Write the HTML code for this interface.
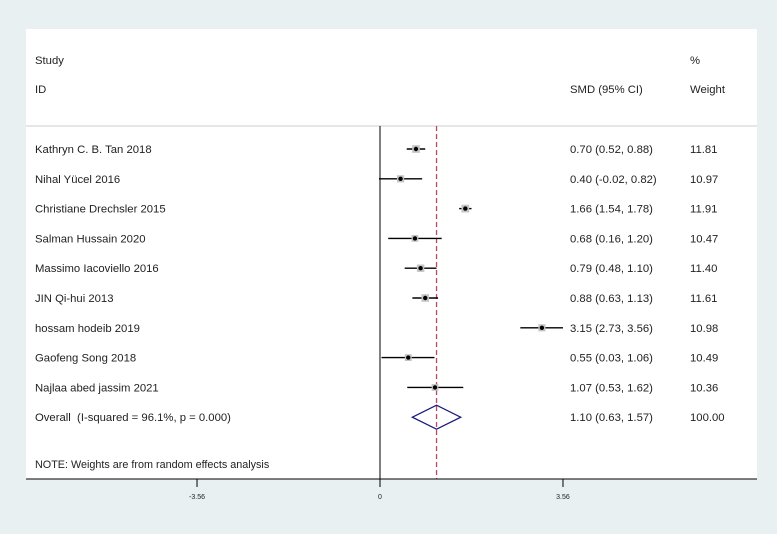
<!DOCTYPE html>
<html><head><meta charset="utf-8"><style>
body{margin:0;background:#e9f0f2;}
svg{display:block;font-family:"Liberation Sans",sans-serif;}
</style></head><body>
<svg width="777" height="534">
<rect x="0" y="0" width="777" height="534" fill="#e9f0f2"/>
<rect x="26" y="29" width="731" height="450" fill="#fff"/>
<g id="g"></g>
</svg>
<script>
const studies=["Kathryn C. B. Tan 2018","Nihal Yücel 2016","Christiane Drechsler 2015","Salman Hussain 2020","Massimo Iacoviello 2016","JIN Qi-hui 2013","hossam hodeib 2019","Gaofeng Song 2018","Najlaa abed jassim 2021"];
const est=[0.70,0.40,1.66,0.68,0.79,0.88,3.15,0.55,1.07];
const lo=[0.52,-0.02,1.54,0.16,0.48,0.63,2.73,0.03,0.53];
const hi=[0.88,0.82,1.78,1.20,1.10,1.13,3.56,1.06,1.62];
const weights=["11.81","10.97","11.91","10.47","11.40","11.61","10.98","10.49","10.36"];
const overall=[1.10,0.63,1.57];
const overallLabel="Overall\u00a0\u00a0(I-squared = 96.1%, p = 0.000)";
const ticks=[-3.56,0,3.56];
const tickLabels=["-3.56","0","3.56"];
const NS="http://www.w3.org/2000/svg",g=document.getElementById('g');
const X=v=>380+v*51.4, Y=i=>149+i*29.8;
function mk(t,a,txt){const e=document.createElementNS(NS,t);for(const k in a)e.setAttribute(k,a[k]);if(txt!==undefined)e.textContent=txt;g.appendChild(e);return e;}
const fmt=v=>v.toFixed(2);
const FS=11.3, TC='#222';
let e;
e=mk('line',{x1:26,y1:126,x2:757,y2:126,stroke:'#ccc','stroke-width':1});
e=mk('text',{x:35,y:64,'font-size':FS,fill:TC},'Study');
e=mk('text',{x:35,y:93,'font-size':FS,fill:TC},'ID');
e=mk('text',{x:570,y:93,'font-size':FS,fill:TC},'SMD (95% CI)');
e=mk('text',{x:690,y:64,'font-size':FS,fill:TC},'%');
e=mk('text',{x:690,y:93,'font-size':FS,fill:TC},'Weight');
e=mk('line',{x1:X(0),y1:126,x2:X(0),y2:479,stroke:'#000','stroke-width':1});
e=mk('line',{x1:X(overall[0]),y1:126,x2:X(overall[0]),y2:479,stroke:'#b84a62','stroke-width':1.3,'stroke-dasharray':'5,3'});
studies.forEach((s,i)=>{const y=Y(i);
e=mk('text',{x:35,y:y+4,'font-size':FS,fill:TC},s);
e=mk('line',{x1:X(lo[i]),y1:y,x2:X(hi[i]),y2:y,stroke:'#000','stroke-width':1.4});
const sz=parseFloat(weights[i])*0.65;
e=mk('rect',{x:X(est[i])-sz/2,y:y-sz/2,width:sz,height:sz,fill:'#c4c4c4'});
e=mk('circle',{cx:X(est[i]),cy:y,r:2.2,fill:'#000'});
e=mk('text',{x:570,y:y+4,'font-size':FS,fill:TC},fmt(est[i])+' ('+fmt(lo[i])+', '+fmt(hi[i])+')');
e=mk('text',{x:690,y:y+4,'font-size':FS,fill:TC},weights[i]);
});
const oy=Y(9);
e=mk('text',{x:35,y:oy+4,'font-size':FS,fill:TC},overallLabel);
e=mk('polygon',{points:`${X(overall[1])},${oy} ${X(overall[0])},${oy-12} ${X(overall[2])},${oy} ${X(overall[0])},${oy+12}`,fill:'none',stroke:'#1c1c7a','stroke-width':1.3});
e=mk('text',{x:570,y:oy+4,'font-size':FS,fill:TC},fmt(overall[0])+' ('+fmt(overall[1])+', '+fmt(overall[2])+')');
e=mk('text',{x:690,y:oy+4,'font-size':FS,fill:TC},'100.00');
e=mk('text',{x:35,y:468,'font-size':10.8,fill:TC},'NOTE: Weights are from random effects analysis');
e=mk('line',{x1:26,y1:479,x2:757,y2:479,stroke:'#000','stroke-width':1});
ticks.forEach((t,i)=>{
e=mk('line',{x1:X(t),y1:479,x2:X(t),y2:487,stroke:'#000','stroke-width':1});
e=mk('text',{x:X(t),y:499,'font-size':7,'text-anchor':'middle',fill:TC},tickLabels[i]);
});
</script>
</body></html>
